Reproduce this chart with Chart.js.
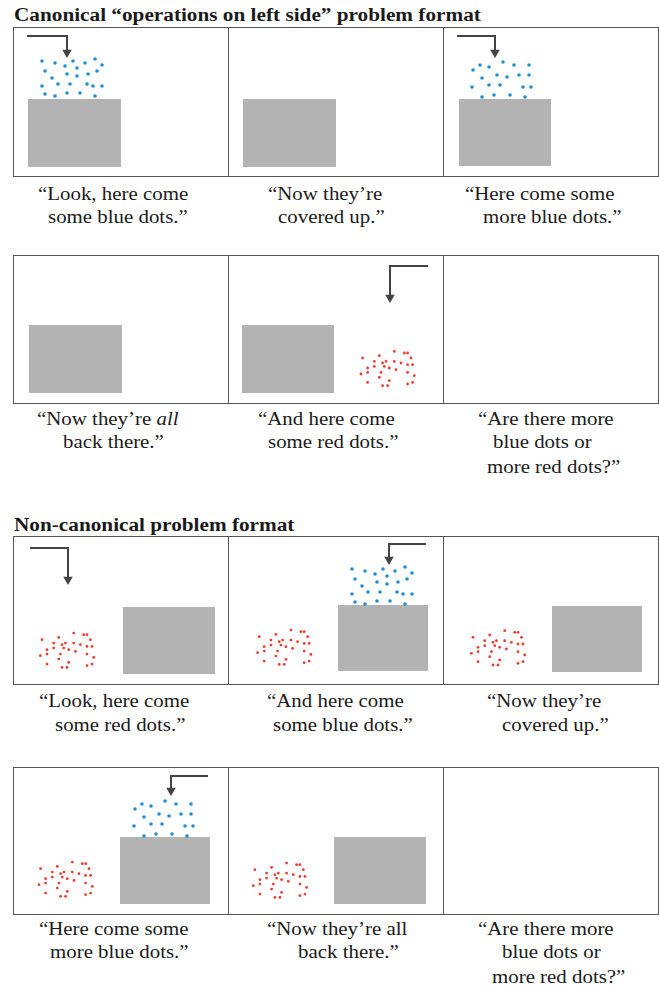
<!DOCTYPE html>
<html>
<head>
<meta charset="utf-8">
<script src="https://cdn.jsdelivr.net/npm/chart.js@4.4.1/dist/chart.umd.min.js"></script>
<style>
body { margin: 0; background: #fff; }
#page { position: relative; width: 659px; height: 988px; font-family: "Liberation Serif", "Times New Roman", serif; color: #1a1a1a; overflow: hidden; }
.title { position: absolute; left: 14px; font-weight: bold; font-size: 18px; line-height: 24px; white-space: nowrap; transform: scaleX(1.18); transform-origin: 0 0; }
.row { position: absolute; left: 13px; width: 646px; box-sizing: border-box; border: 1px solid #555; pointer-events: none; z-index: 2; }
.divider { position: absolute; width: 1px; background: #555; z-index: 2; }
.panel { position: absolute; width: 215px; }
.cap { position: absolute; font-size: 18px; line-height: 24px; white-space: nowrap; transform: scaleX(1.16); transform-origin: 0 0; }
</style>
</head>
<body>
<div id="page">
  <div class="title" style="top:3px">Canonical “operations on left side” problem format</div>
  <div class="title" style="top:513px">Non-canonical problem format</div>
</div>
<script>
// blue dots, first set (panel 1; same set again in the non-canonical row)
const blueAX = [29, 42, 52, 60, 64, 72, 82, 89, 32, 39, 54, 64, 75, 84, 29, 45, 57, 74, 80, 89, 32, 42, 54, 67, 82];
const blueAY = [34, 36, 39, 34, 41, 36, 32, 38, 44, 51, 47, 49, 47, 44, 59, 57, 57, 57, 59, 59, 67, 69, 66, 66, 69];

// blue dots, second set ("more blue dots")
const blueBX = [30, 37, 46, 60, 71, 86, 39, 54, 64, 76, 86, 29, 46, 57, 80, 88, 39, 51, 67, 82];
const blueBY = [43, 38, 40, 35, 38, 38, 51, 48, 50, 48, 48, 60, 58, 58, 60, 60, 70, 68, 68, 70];

// red dots
const redX = [134.6, 151.3, 166.3, 176.3, 179.6, 183, 146.3, 158, 166.3, 173, 179.6, 184.6, 154.6, 139.6, 146.3,
              156.3, 161.3, 168, 133, 139.6, 153, 179.6, 186.3, 151.3, 161.3, 139.6, 179.6, 184.6, 154.6, 159.6];
const redY = [103, 100.7, 96.4, 98, 98, 103, 106.4, 106.4, 106.4, 108, 109.7, 109.7, 108, 113, 111.4,
              111.4, 113, 114.7, 119, 117.4, 117.4, 117.4, 120.7, 122.4, 125.7, 127.4, 129, 127.4, 130.7, 130.7];

// gray screen per panel: [left, right, top, bottom], null = none
const boxes = [
  [15, 108, 72, 140], [15, 108, 72, 140], [16, 108, 72, 139],
  [16, 109, 70, 138], [14, 106, 70, 138], null,
  [110, 202, 71, 138], [110, 200, 69, 135], [109, 199, 70, 136],
  [107, 197, 70, 137], [106, 198, 70, 137], null
];

// arrow per panel: [start x, corner x, horizontal y, tip y]
const arrows = [
  [14, 54, 9, 31], null, [14, 52, 9, 31],
  null, [200, 162, 11, 48], null,
  [17, 55, 12, 49], [198, 161, 8, 29], null,
  [195, 158, 9, 29], null, null
];

// which dot sets go in each panel, and where
const dotSets = [
  [['blueA', 0, 0]], [], [['blueB', 0, 0]],
  [], [['red', 0, 0]], [],
  [['red', -105.6, 0.7]], [['red', -103.4, -2.3], ['blueA', 95, -1]], [['red', -104.6, -1.7]],
  [['red', -107, -1.3], ['blueB', 92, -1]], [['red', -107.7, -0.3]], []
];

const captions = [
  [['“Look, here come', 37.7, 200], ['some blue dots.”', 47.7, 223]],
  [['“Now they’re', 268.3, 200], ['covered up.”', 278.3, 223]],
  [['“Here come some', 465, 200], ['more blue dots.”', 482.7, 223]],
  [['“Now they’re <i>all</i>', 36.7, 425], ['back there.”', 63.3, 448]],
  [['“And here come', 258.3, 425], ['some red dots.”', 268.3, 448]],
  [['“Are there more', 478.3, 425], ['blue dots or', 493.3, 448], ['more red dots?”', 487.3, 473]],
  [['“Look, here come', 39.3, 706.7], ['some red dots.”', 55, 731]],
  [['“And here come', 267, 706.7], ['some blue dots.”', 273.3, 731]],
  [['“Now they’re', 486.7, 706.7], ['covered up.”', 501.7, 731]],
  [['“Here come some', 39.3, 935], ['more blue dots.”', 50, 958]],
  [['“Now they’re all', 266.7, 935], ['back there.”', 298.3, 958]],
  [['“Are there more', 478.3, 935], ['blue dots or', 501.7, 958], ['more red dots?”', 492.3, 983]]
];

const rowTops = [27, 255, 536, 767];
const rowHeights = [150, 149, 149, 148];
const colLefts = [13, 228, 443];

const dotSources = {
  blueA: { xs: blueAX, ys: blueAY, color: '#1f8fd8', r: 1.8 },
  blueB: { xs: blueBX, ys: blueBY, color: '#1f8fd8', r: 1.8 },
  red: { xs: redX, ys: redY, color: '#ef3a2f', r: 1.4 }
};

const page = document.getElementById('page');

rowTops.forEach(function (top, r) {
  const box = document.createElement('div');
  box.className = 'row';
  box.style.top = top + 'px';
  box.style.height = rowHeights[r] + 'px';
  page.appendChild(box);
  [228, 443].forEach(function (x) {
    const d = document.createElement('div');
    d.className = 'divider';
    d.style.left = x + 'px';
    d.style.top = top + 'px';
    d.style.height = rowHeights[r] + 'px';
    page.appendChild(d);
  });
});

for (let i = 0; i < 12; i++) {
  const row = Math.floor(i / 3), col = i % 3;
  const h = rowHeights[row];
  const wrap = document.createElement('div');
  wrap.className = 'panel';
  wrap.style.left = colLefts[col] + 'px';
  wrap.style.top = rowTops[row] + 'px';
  wrap.style.height = h + 'px';
  const canvas = document.createElement('canvas');
  wrap.appendChild(canvas);
  page.appendChild(wrap);

  const datasets = [];
  dotSets[i].forEach(function (s) {
    const src = dotSources[s[0]];
    datasets.push({
      data: src.xs.map(function (x, k) { return { x: x + s[1], y: src.ys[k] + s[2] }; }),
      pointRadius: src.r,
      pointBackgroundColor: src.color,
      pointBorderWidth: 0,
      order: 1
    });
  });
  if (arrows[i]) {
    const a = arrows[i];
    const head = 5.5;
    datasets.push({
      type: 'line',
      data: [{ x: a[0], y: a[2] }, { x: a[1], y: a[2] }, { x: a[1], y: a[3] - head }],
      borderColor: '#444',
      borderWidth: 2,
      borderCapStyle: 'butt',
      borderJoinStyle: 'miter',
      tension: 0,
      fill: false,
      pointRadius: [0, 0, head],
      pointStyle: 'triangle',
      pointRotation: 180,
      pointBackgroundColor: '#444',
      pointBorderWidth: 0,
      order: 2
    });
  }
  if (boxes[i]) {
    const b = boxes[i];
    datasets.push({
      type: 'line',
      data: [{ x: b[0], y: b[2] }, { x: b[1], y: b[2] }],
      fill: { value: b[3] },
      backgroundColor: '#b3b3b3',
      borderColor: 'rgba(0,0,0,0)',
      borderWidth: 1,
      pointRadius: 0,
      order: 3
    });
  }

  new Chart(canvas, {
    type: 'scatter',
    data: { datasets: datasets },
    options: {
      animation: false,
      responsive: true,
      maintainAspectRatio: false,
      events: [],
      layout: { padding: 0, autoPadding: false },
      plugins: { legend: { display: false }, tooltip: { enabled: false } },
      scales: {
        x: { type: 'linear', min: 0, max: 215, display: false },
        y: { type: 'linear', min: 0, max: h, reverse: true, display: false }
      }
    }
  });

  captions[i].forEach(function (line) {
    const t = document.createElement('div');
    t.className = 'cap';
    t.innerHTML = line[0];
    t.style.left = line[1] + 'px';
    t.style.top = (line[2] - 18) + 'px';
    page.appendChild(t);
  });
}
</script>
</body>
</html>
